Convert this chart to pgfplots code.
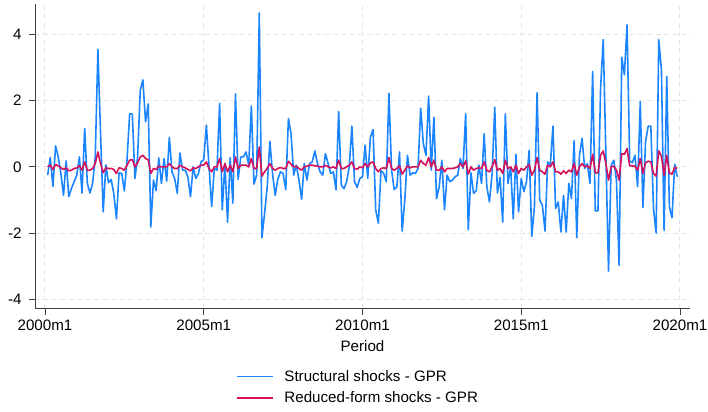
\documentclass[border=0pt]{standalone}
\usepackage{pgfplots}
\usepackage{pgfplotstable}
\usepackage{fontspec}
\setmainfont{Liberation Sans}
\pgfplotsset{compat=1.18}
\definecolor{stcblue}{HTML}{1A85FF}
\definecolor{stcred}{HTML}{D41159}
\definecolor{axgray}{HTML}{404040}
\definecolor{gridgray}{HTML}{E6E6E6}
\pgfplotstableread{
t b r
1 -0.25 0.00
2 0.28 0.05
3 -0.59 -0.08
4 0.63 0.07
5 0.30 0.03
6 -0.20 -0.03
7 -0.86 -0.08
8 0.18 -0.03
9 -0.90 -0.12
10 -0.65 -0.10
11 -0.45 -0.05
12 -0.25 -0.03
13 0.30 0.03
14 -0.79 -0.10
15 1.16 0.15
16 -0.50 -0.10
17 -0.79 -0.10
18 -0.50 -0.05
19 0.30 0.10
20 3.55 0.45
21 1.00 0.10
22 -1.36 -0.18
23 0.06 -0.03
24 -0.48 -0.05
25 -0.38 -0.05
26 -0.80 -0.08
27 -1.57 -0.20
28 -0.18 -0.03
29 -0.20 -0.05
30 -0.73 -0.10
31 0.20 0.05
32 1.60 0.20
33 1.60 0.22
34 -0.35 0.00
35 0.30 0.12
36 2.30 0.30
37 2.63 0.35
38 1.36 0.25
39 1.90 0.22
40 -1.82 -0.20
41 -0.40 -0.05
42 -0.72 -0.08
43 0.27 0.02
44 -0.50 0.00
45 0.25 0.00
46 -0.43 0.00
47 0.89 0.10
48 -0.15 0.00
49 -0.35 -0.05
50 -0.80 -0.05
51 0.42 0.05
52 -0.10 0.00
53 -0.10 -0.03
54 -0.30 -0.08
55 -0.90 -0.12
56 0.00 -0.03
57 -0.35 -0.05
58 -0.20 0.00
59 0.15 0.05
60 0.22 0.05
61 1.26 0.15
62 0.00 -0.05
63 -1.20 -0.15
64 -0.05 0.00
65 -0.10 0.00
66 1.92 0.25
67 -1.30 -0.15
68 0.10 0.10
69 -1.67 -0.15
70 0.28 0.05
71 -1.10 -0.15
72 2.20 0.30
73 -0.38 -0.05
74 0.30 0.05
75 0.30 0.05
76 0.45 0.05
77 0.05 0.00
78 1.84 0.25
79 -0.52 -0.05
80 -0.25 -0.05
81 4.65 0.60
82 -2.14 -0.28
83 -1.40 -0.15
84 -0.60 -0.05
85 0.77 0.10
86 -0.20 -0.05
87 -0.86 -0.10
88 -0.38 -0.05
89 -0.15 -0.02
90 -0.20 -0.05
91 -0.69 -0.05
92 1.46 0.17
93 1.00 0.08
94 -0.25 0.00
95 0.05 0.02
96 -0.40 -0.05
97 -0.98 -0.10
98 0.10 0.00
99 -0.40 0.02
100 0.10 0.05
101 0.15 0.05
102 0.48 0.03
103 0.10 0.02
104 -0.15 0.00
105 -0.25 0.00
106 0.40 0.05
107 0.10 0.00
108 -0.20 -0.03
109 -0.15 0.00
110 -0.69 -0.05
111 1.67 0.20
112 -0.55 -0.05
113 -0.66 -0.05
114 -0.45 0.00
115 0.00 0.05
116 1.23 0.15
117 -0.45 -0.05
118 -0.62 -0.07
119 -0.35 0.00
120 -0.30 -0.03
121 0.66 0.10
122 -0.35 0.00
123 0.90 0.12
124 1.13 0.15
125 -1.30 -0.05
126 -1.70 -0.15
127 -0.12 -0.05
128 -0.20 -0.03
129 -0.45 -0.05
130 2.22 0.28
131 -0.10 -0.05
132 -0.69 -0.10
133 -0.60 -0.05
134 0.45 0.03
135 -1.94 -0.22
136 -1.00 -0.10
137 0.35 0.03
138 -0.25 -0.03
139 -0.18 0.00
140 -0.20 0.00
141 -0.05 0.00
142 1.77 0.20
143 0.70 0.10
144 0.35 0.05
145 2.14 0.28
146 -0.10 0.00
147 1.50 0.20
148 -0.96 -0.10
149 -0.60 -0.10
150 0.20 0.00
151 -1.30 -0.15
152 -0.25 -0.05
153 -0.45 -0.05
154 -0.40 -0.05
155 -0.30 -0.03
156 -0.25 0.00
157 0.25 0.10
158 -0.05 0.00
159 1.60 0.18
160 -1.90 -0.22
161 -0.18 0.00
162 -0.80 -0.10
163 -0.72 -0.05
164 0.05 -0.03
165 -0.50 -0.05
166 1.00 0.15
167 -0.60 -0.10
168 -1.06 -0.15
169 -0.20 0.00
170 1.80 0.22
171 -0.79 -0.10
172 -0.32 -0.05
173 -1.67 -0.20
174 1.60 0.20
175 -0.50 -0.05
176 0.00 0.00
177 -1.57 -0.15
178 0.38 0.05
179 -1.36 -0.20
180 -0.35 -0.05
181 -0.75 -0.10
182 -0.45 0.00
183 0.50 0.07
184 -2.10 -0.25
185 -1.20 -0.10
186 2.24 0.28
187 -1.00 -0.10
188 -1.16 -0.15
189 -1.94 -0.22
190 0.15 0.05
191 0.05 0.00
192 1.23 0.15
193 -1.26 -0.15
194 -1.06 -0.15
195 -1.97 -0.22
196 -0.86 -0.12
197 -1.97 -0.20
198 -0.50 -0.10
199 -0.96 -0.15
200 0.79 0.10
201 -2.14 -0.25
202 0.35 0.00
203 0.86 0.10
204 -0.05 0.00
205 0.10 0.03
206 -0.50 -0.05
207 2.88 0.38
208 -1.33 -0.18
209 -1.33 -0.18
210 2.37 0.35
211 3.84 0.48
212 0.40 0.10
213 -3.15 -0.40
214 0.05 0.00
215 0.20 0.02
216 -0.40 -0.10
217 -2.98 -0.40
218 3.31 0.40
219 2.78 0.38
220 4.29 0.55
221 0.18 0.03
222 0.12 0.03
223 0.35 0.02
224 -0.60 -0.10
225 1.97 0.25
226 -1.23 -0.20
227 0.76 0.12
228 1.23 0.17
229 1.23 0.15
230 -1.26 -0.20
231 -2.00 -0.28
232 3.84 0.48
233 2.93 0.32
234 -1.92 -0.25
235 2.73 0.35
236 -1.20 -0.18
237 -1.54 -0.22
238 0.08 -0.02
239 -0.30 -0.05
}\gprdata
\begin{document}
\begin{tikzpicture}
\path[use as bounding box] (-35bp,-103.5bp) rectangle (673bp,4bp+304.5bp);
\begin{axis}[
  at={(0,0)}, anchor=south west,
  scale only axis, width=655bp, height=304.5bp,
  xmin=-3.78, xmax=243.8, ymin=-4.28, ymax=4.92,
  axis x line*=bottom, axis y line*=left,
  axis line style={-, draw=axgray, line width=0.9bp},
  tick align=outside, major tick length=6bp,
  tick style={draw=axgray, line width=0.9bp},
  xtick={0,60,120,180,240},
  xticklabels={2000m1,2005m1,2010m1,2015m1,2020m1},
  ytick={-4,-2,0,2,4},
  /pgf/number format/assume math mode=true,
  ticklabel style={font=\fontsize{15.2}{18}\selectfont},
  xticklabel style={yshift=-2bp},
  yticklabel style={xshift=-4bp},
  xlabel={Period},
  xlabel style={font=\fontsize{15.2}{18}\selectfont, yshift=-3bp},
  grid=major,
  major grid style={draw=gridgray, line width=1bp, dash pattern=on 5bp off 3.5bp},
  legend style={at={(0.493,-0.195)}, anchor=north, draw=none, fill=none,
    font=\fontsize{15.2}{18}\selectfont, row sep=5bp, column sep=9bp,
    inner sep=0pt},
  legend cell align=left,
]
\addplot[draw=stcblue, line width=1.6bp, line join=round,
  legend image code/.code={\draw[draw=stcblue, line width=1.6bp] (0bp,0bp) -- (36bp,0bp);}]
  table[x=t, y=b] {\gprdata};
\addlegendentry{Structural shocks - GPR}
\addplot[draw=stcred, line width=1.6bp, line join=round,
  legend image code/.code={\draw[draw=stcred, line width=1.6bp] (0bp,0bp) -- (36bp,0bp);}]
  table[x=t, y=r] {\gprdata};
\addlegendentry{Reduced-form shocks - GPR}
\end{axis}
\end{tikzpicture}
\end{document}
